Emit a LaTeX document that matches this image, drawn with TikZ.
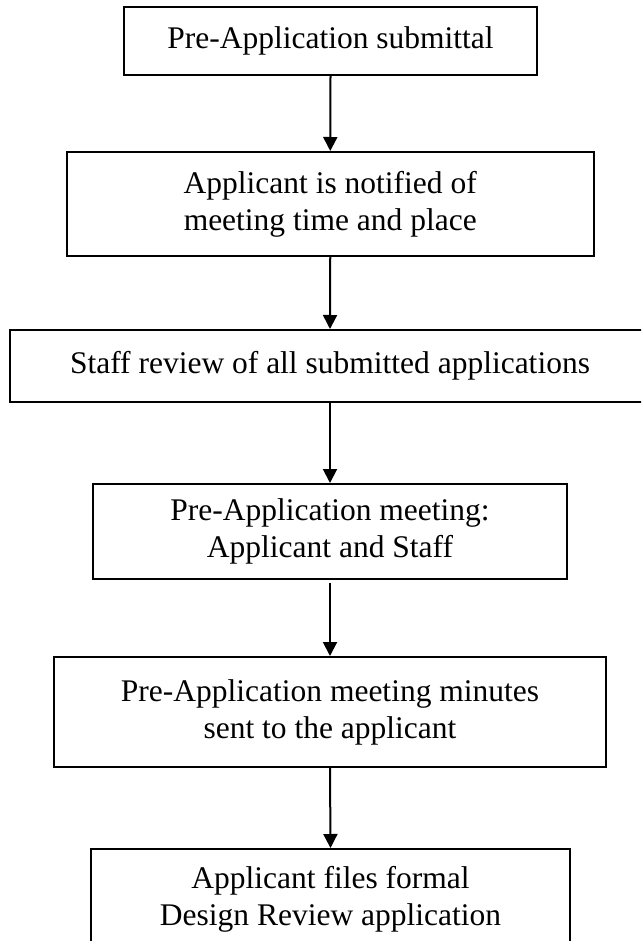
\documentclass[tikz,border=0pt]{standalone}
\usepackage{fontspec}
\setmainfont{Liberation Serif}
\usetikzlibrary{arrows.meta}
\begin{document}
\begin{tikzpicture}[x=1pt,y=-1pt,
  box/.style={draw=black, line width=2pt, rectangle, align=center, inner sep=0pt,
    font=\fontsize{31.5}{37}\selectfont},
  arr/.style={line width=2pt, -{Triangle[length=14pt,width=14pt]}}]
\clip (0,0) rectangle (641,941);
\fill[white] (0,0) rectangle (641,941);
\node[box, minimum width=413pt, minimum height=68pt] (b1) at (330.5,41) {Pre-Application submittal};
\node[box, minimum width=527.5pt, minimum height=104pt] (b2) at (330.25,204) {Applicant is notified of\\meeting time and place};
\node[box, minimum width=640pt, minimum height=72pt] (b3) at (330,366) {Staff review of all submitted applications};
\node[box, minimum width=474pt, minimum height=95pt] (b4) at (330,531.5) {Pre-Application meeting:\\Applicant and Staff};
\node[box, minimum width=552pt, minimum height=110pt] (b5) at (330,712) {Pre-Application meeting minutes\\sent to the applicant};
\node[box, minimum width=479pt, minimum height=101pt] (b6) at (330.5,899.5) {Applicant files formal\\Design Review application};
\draw[arr] (b1.south) -- (b2.north);
\draw[arr] (b2.south) -- (b3.north);
\draw[arr] (b3.south) -- (b4.north);
\draw[arr, shorten <=3pt] (b4.south) -- (b5.north);
\draw[arr] (b5.south) -- (b6.north);
\end{tikzpicture}
\end{document}
